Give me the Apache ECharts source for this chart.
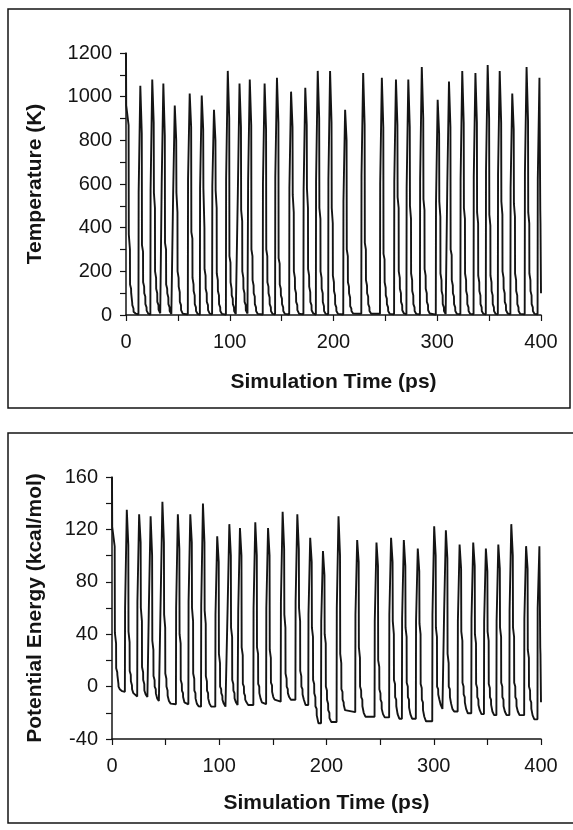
<!DOCTYPE html>
<html>
<head>
<meta charset="utf-8">
<script src="https://cdn.jsdelivr.net/npm/echarts@6/dist/echarts.min.js"></script>
<style>
html,body{margin:0;padding:0;background:#fff;}
#chart{width:573px;height:830px;}
</style>
</head>
<body>
<div id="chart"></div>
<script>
// Simulation time (ps), shared by both panels
const timePs = [
  0, 0.2, 2.5, 2.7, 3.8, 3.9, 4.9, 5.0, 6.0, 6.1, 7.2, 7.3, 9.5,
  12.0, 12.2, 13.8, 15.2, 15.4, 16.4, 16.5, 17.5, 17.6, 18.6, 18.7, 19.8, 19.9, 21.5,
  23.5, 23.7, 25.3, 26.7, 26.9, 27.9, 28.0, 29.0, 29.1, 30.1, 30.2, 31.3, 31.4, 33.0,
  34.2, 34.4, 36.0, 37.4, 37.6, 38.6, 38.7, 39.7, 39.8, 40.8, 40.9, 42.0, 42.1, 43.7,
  45.2, 45.4, 47.0, 48.4, 48.6, 49.6, 49.7, 50.7, 50.8, 51.8, 51.9, 53.0, 53.1, 54.7,
  59.6, 59.8, 61.4, 62.8, 63.0, 64.0, 64.1, 65.1, 65.2, 66.2, 66.3, 67.4, 67.5, 69.1,
  71.2, 71.4, 73.0, 74.4, 74.6, 75.6, 75.7, 76.7, 76.8, 77.8, 77.9, 79.0, 79.1, 80.7,
  83.0, 83.2, 84.8, 86.2, 86.4, 87.4, 87.5, 88.5, 88.6, 89.6, 89.7, 90.8, 90.9, 92.5,
  96.3, 96.5, 98.1, 99.5, 99.7, 100.7, 100.8, 101.8, 101.9, 102.9, 103.0, 104.1, 104.2, 105.8,
  107.6, 107.8, 109.4, 110.8, 111.0, 112.0, 112.1, 113.1, 113.2, 114.2, 114.3, 115.4, 115.5, 117.1,
  117.5, 117.7, 119.3, 120.7, 120.9, 121.9, 122.0, 123.0, 123.1, 124.1, 124.2, 125.3, 125.4, 127.0,
  131.8, 132.0, 133.6, 135.0, 135.2, 136.2, 136.3, 137.3, 137.4, 138.4, 138.5, 139.6, 139.7, 141.3,
  143.7, 143.9, 145.5, 146.9, 147.1, 148.1, 148.2, 149.2, 149.3, 150.3, 150.4, 151.5, 151.6, 153.2,
  157.3, 157.5, 159.1, 160.5, 160.7, 161.7, 161.8, 162.8, 162.9, 163.9, 164.0, 165.1, 165.2, 166.8,
  171.0, 171.2, 172.8, 174.2, 174.4, 175.4, 175.5, 176.5, 176.6, 177.6, 177.7, 178.8, 178.9, 180.5,
  183.0, 183.2, 184.8, 186.2, 186.4, 187.4, 187.5, 188.5, 188.6, 189.6, 189.7, 190.8, 190.9, 192.5,
  194.9, 195.1, 196.7, 198.1, 198.3, 199.3, 199.4, 200.4, 200.5, 201.5, 201.6, 202.7, 202.8, 204.4,
  209.4, 209.6, 211.2, 212.6, 212.8, 213.8, 213.9, 214.9, 215.0, 216.0, 216.1, 217.2, 217.3, 218.9,
  226.8, 227.0, 228.6, 230.0, 230.2, 231.2, 231.3, 232.3, 232.4, 233.4, 233.5, 234.6, 234.7, 236.3,
  244.8, 245.0, 246.6, 248.0, 248.2, 249.2, 249.3, 250.3, 250.4, 251.4, 251.5, 252.6, 252.7, 254.3,
  258.4, 258.6, 260.2, 261.6, 261.8, 262.8, 262.9, 263.9, 264.0, 265.0, 265.1, 266.2, 266.3, 267.9,
  270.3, 270.5, 272.1, 273.5, 273.7, 274.7, 274.8, 275.8, 275.9, 276.9, 277.0, 278.1, 278.2, 279.8,
  283.3, 283.5, 285.1, 286.5, 286.7, 287.7, 287.8, 288.8, 288.9, 289.9, 290.0, 291.1, 291.2, 292.8,
  298.6, 298.8, 300.4, 301.8, 302.0, 303.0, 303.1, 304.1, 304.2, 305.2, 305.3, 306.4, 306.5, 308.1,
  309.5, 309.7, 311.3, 312.7, 312.9, 313.9, 314.0, 315.0, 315.1, 316.1, 316.2, 317.3, 317.4, 319.0,
  322.3, 322.5, 324.1, 325.5, 325.7, 326.7, 326.8, 327.8, 327.9, 328.9, 329.0, 330.1, 330.2, 331.8,
  335.0, 335.2, 336.8, 338.2, 338.4, 339.4, 339.5, 340.5, 340.6, 341.6, 341.7, 342.8, 342.9, 344.5,
  346.8, 347.0, 348.6, 350.0, 350.2, 351.2, 351.3, 352.3, 352.4, 353.4, 353.5, 354.6, 354.7, 356.3,
  358.4, 358.6, 360.2, 361.6, 361.8, 362.8, 362.9, 363.9, 364.0, 365.0, 365.1, 366.2, 366.3, 367.9,
  370.5, 370.7, 372.3, 373.7, 373.9, 374.9, 375.0, 376.0, 376.1, 377.1, 377.2, 378.3, 378.4, 380.0,
  384.3, 384.5, 386.1, 387.5, 387.7, 388.7, 388.8, 389.8, 389.9, 390.9, 391.0, 392.1, 392.2, 393.8,
  396.7, 396.9, 398.5, 399.3, 399.5, 400.0
];

// Temperature (K)
const temperatureK = [
  1200, 960, 870, 370, 300, 140, 120, 100, 55, 45, 30, 15, 6,
  3, 560, 1050, 830, 320, 290, 150, 130, 100, 85, 50, 35, 20, 6,
  2, 570, 1078, 880, 560, 490, 200, 170, 120, 100, 60, 45, 25, 8,
  3, 600, 1060, 820, 330, 300, 140, 120, 100, 80, 50, 35, 18, 5,
  2, 540, 959, 800, 560, 470, 200, 170, 130, 105, 60, 45, 22, 6,
  3, 620, 1014, 860, 380, 350, 170, 140, 110, 90, 50, 35, 18, 5,
  2, 580, 1005, 850, 580, 400, 210, 180, 120, 100, 60, 45, 22, 6,
  3, 590, 940, 800, 570, 490, 190, 160, 110, 90, 50, 35, 18, 5,
  2, 620, 1118, 900, 270, 240, 150, 120, 90, 75, 50, 35, 18, 5,
  3, 560, 1060, 860, 480, 430, 200, 170, 120, 100, 60, 45, 22, 7,
  4, 610, 1078, 870, 300, 270, 160, 135, 100, 85, 50, 35, 18, 5,
  2, 600, 1060, 850, 300, 270, 150, 130, 100, 80, 50, 35, 18, 5,
  3, 630, 1087, 880, 260, 235, 140, 120, 90, 75, 50, 35, 18, 5,
  2, 580, 1023, 860, 550, 470, 200, 170, 120, 100, 60, 45, 22, 6,
  3, 570, 1041, 870, 580, 490, 210, 180, 130, 105, 60, 45, 22, 7,
  2, 610, 1118, 900, 490, 440, 200, 170, 120, 100, 60, 40, 18, 5,
  3, 620, 1118, 880, 490, 420, 180, 150, 110, 90, 50, 35, 18, 5,
  2, 520, 940, 800, 300, 270, 150, 130, 100, 80, 40, 30, 18, 7,
  6, 640, 1108, 870, 330, 300, 160, 135, 100, 85, 50, 35, 18, 6,
  6, 600, 1087, 860, 280, 255, 150, 125, 90, 75, 50, 35, 18, 5,
  3, 610, 1078, 870, 540, 490, 200, 170, 120, 100, 60, 45, 22, 7,
  3, 580, 1078, 860, 500, 440, 190, 160, 110, 90, 50, 35, 18, 5,
  3, 620, 1136, 900, 530, 480, 210, 180, 120, 100, 60, 45, 22, 7,
  2, 510, 986, 830, 520, 450, 190, 160, 110, 90, 50, 35, 18, 5,
  3, 600, 1069, 860, 300, 275, 160, 135, 100, 85, 50, 35, 18, 5,
  3, 620, 1118, 880, 490, 440, 190, 160, 110, 90, 50, 35, 18, 5,
  3, 630, 1108, 880, 470, 420, 180, 150, 110, 90, 50, 35, 18, 5,
  3, 660, 1145, 900, 460, 410, 180, 150, 110, 90, 50, 35, 18, 5,
  3, 640, 1118, 880, 520, 460, 200, 170, 120, 100, 60, 45, 22, 7,
  3, 580, 1014, 850, 510, 450, 190, 160, 110, 90, 50, 35, 18, 5,
  3, 650, 1136, 890, 470, 420, 190, 160, 110, 90, 50, 35, 18, 5,
  3, 620, 1087, 480, 420, 100
];

// Potential energy (kcal/mol)
const energyKcal = [
  160, 122, 107, 41, 33, 14, 11, 9, 2, 0, -2, -3, -3.5,
  -4, 60, 135, 108, 42, 34, 12, 9, 4, 1, -2, -3, -5, -6.5,
  -7.5, 65, 131.6, 110, 60, 50, 15, 11, 5, 2, -3, -4, -6, -8,
  -9, 62, 130, 100, 35, 28, 8, 5, 0, -2, -5, -6, -9, -11,
  -12, 68, 141, 110, 55, 45, 10, 6, 0, -3, -7, -8, -11, -13,
  -13.5, 60, 131.6, 105, 40, 33, 5, 2, -3, -5, -8, -9, -12, -13.5,
  -13.5, 65, 131.6, 110, 60, 50, 10, 6, -3, -5, -9, -10, -13, -15,
  -15.3, 62, 139.7, 110, 58, 48, 8, 4, -3, -5, -9, -10, -13, -15.3,
  -15.3, 55, 114.8, 95, 25, 18, 0, -2, -5, -7, -10, -11, -13, -15.3,
  -15.3, 60, 124, 100, 45, 38, 5, 2, -3, -5, -9, -10, -12, -14,
  -14, 58, 121, 100, 30, 24, 2, 0, -5, -7, -10, -11, -12, -14,
  -14, 60, 125.5, 100, 30, 25, 2, 0, -5, -6, -9, -10, -12, -13.4,
  -13.4, 60, 121, 100, 28, 22, 3, 1, -4, -5, -8, -9, -10, -11.5,
  -11.5, 65, 133.4, 105, 55, 45, 10, 6, 0, -2, -5, -6, -8, -10,
  -10, 65, 131.6, 105, 60, 50, 12, 8, 0, -2, -6, -7, -10, -14,
  -14, 55, 113.6, 95, 45, 38, 5, 2, -5, -8, -15, -17, -22, -28,
  -28, 50, 103.4, 85, 40, 33, 0, -3, -10, -13, -18, -20, -24, -27,
  -27, 60, 130, 100, 25, 18, -2, -4, -10, -12, -14, -15, -18, -19.5,
  -19.5, 55, 111.8, 95, 30, 22, 0, -3, -8, -10, -15, -16, -20, -23,
  -23, 50, 110, 92, 20, 15, -2, -5, -10, -12, -17, -18, -21, -23.5,
  -23.5, 55, 113.6, 95, 50, 40, 5, 2, -8, -10, -15, -16, -21, -24.5,
  -24.5, 52, 111.8, 92, 45, 38, 3, 0, -8, -10, -16, -17, -21, -24.5,
  -24.5, 50, 105.4, 88, 48, 40, 2, -1, -10, -12, -18, -19, -23, -26.5,
  -26.5, 55, 122.4, 100, 45, 38, 0, -2, -6, -7, -10, -11, -14, -17,
  -17, 58, 119.4, 98, 25, 18, 0, -2, -8, -9, -13, -14, -17, -19,
  -19, 50, 108.5, 90, 42, 35, 3, 0, -6, -8, -12, -13, -17, -20.4,
  -20.4, 52, 110, 92, 40, 33, 2, -1, -8, -10, -14, -15, -18, -21,
  -21, 50, 105.4, 88, 42, 35, 2, -1, -8, -10, -14, -15, -19, -21.8,
  -21.8, 50, 108.5, 90, 45, 38, 3, 0, -8, -10, -15, -16, -19, -21.8,
  -21.8, 58, 124, 100, 45, 38, 3, 0, -8, -10, -15, -16, -19, -21.8,
  -21.8, 52, 107.2, 90, 28, 22, 0, -3, -10, -12, -17, -18, -22, -25,
  -25, 60, 107.2, 30, 25, -12
];

// Axis tick labels
const xTicks = [0, 100, 200, 300, 400];
const tempTicks = [0, 200, 400, 600, 800, 1000, 1200];
const energyTicks = [-40, 0, 40, 80, 120, 160];

const FONT = '"Liberation Sans", Arial, Helvetica, sans-serif';
const INK = '#141414';

const tempData = timePs.map((t, i) => [t, temperatureK[i]]);
const energyData = timePs.map((t, i) => [t, energyKcal[i]]);

function xAxisCfg(gi, gap, margin) {
  return {
    gridIndex: gi, type: 'value', min: 0, max: 400, interval: 50,
    name: 'Simulation Time (ps)', nameLocation: 'middle', nameGap: gap,
    nameTextStyle: { fontFamily: FONT, fontSize: 21, fontWeight: 'bold', color: INK },
    axisLine: { show: true, onZero: false, lineStyle: { color: INK, width: 1.5 } },
    axisTick: { show: true, inside: false, length: 6, lineStyle: { color: INK, width: 1.2 } },
    axisLabel: { show: true, fontFamily: FONT, fontSize: 20, color: INK, margin: margin,
      showMinLabel: true, showMaxLabel: true,
      formatter: v => (xTicks.indexOf(v) >= 0 ? String(v) : '') },
    splitLine: { show: false }
  };
}
function yAxisCfg(gi, name, min, max, interval, ticks, gap) {
  return {
    gridIndex: gi, type: 'value', min: min, max: max, interval: interval,
    name: name, nameLocation: 'middle', nameGap: gap,
    nameTextStyle: { fontFamily: FONT, fontSize: 21, fontWeight: 'bold', color: INK },
    axisLine: { show: true, onZero: false, lineStyle: { color: INK, width: 1.5 } },
    axisTick: { show: true, inside: false, length: 6, lineStyle: { color: INK, width: 1.2 } },
    axisLabel: { show: true, fontFamily: FONT, fontSize: 20, color: INK, margin: 14,
      showMinLabel: true, showMaxLabel: true,
      formatter: v => (ticks.indexOf(v) >= 0 ? String(v) : '') },
    splitLine: { show: false }
  };
}

const chart = echarts.init(document.getElementById('chart'), null, { renderer: 'canvas' });
chart.setOption({
  animation: false,
  backgroundColor: '#fff',
  graphic: [
    { type: 'rect', shape: { x: 8, y: 9, width: 562, height: 399 },
      style: { fill: 'none', stroke: INK, lineWidth: 1.5 }, z: 0 },
    { type: 'rect', shape: { x: 8, y: 433, width: 575, height: 390 },
      style: { fill: 'none', stroke: INK, lineWidth: 1.5 }, z: 0 }
  ],
  grid: [
    { left: 126, right: 32, top: 53, height: 262 },
    { left: 112, right: 32, top: 477, height: 262 }
  ],
  xAxis: [ xAxisCfg(0, 57, 17), xAxisCfg(1, 54, 17) ],
  yAxis: [
    yAxisCfg(0, 'Temperature (K)', 0, 1200, 100, tempTicks, 80),
    yAxisCfg(1, 'Potential Energy (kcal/mol)', -40, 160, 20, energyTicks, 66)
  ],
  series: [
    { type: 'line', xAxisIndex: 0, yAxisIndex: 0, data: tempData,
      showSymbol: false, symbol: 'none', clip: true,
      lineStyle: { color: INK, width: 1.9 } },
    { type: 'line', xAxisIndex: 1, yAxisIndex: 1, data: energyData,
      showSymbol: false, symbol: 'none', clip: true,
      lineStyle: { color: INK, width: 1.9 } }
  ]
});
</script>
</body>
</html>
